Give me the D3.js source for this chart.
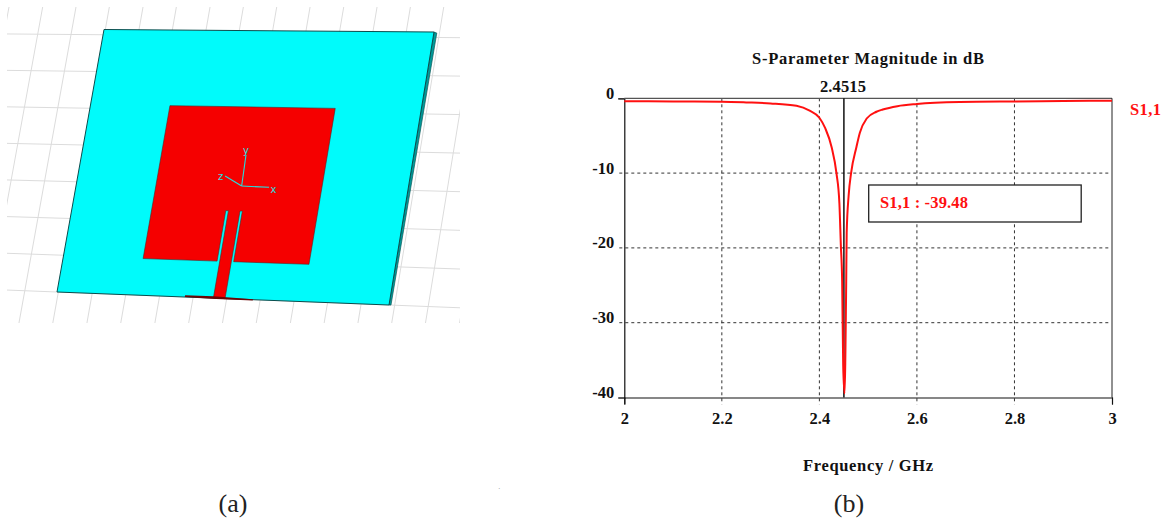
<!DOCTYPE html>
<html><head><meta charset="utf-8">
<script src="https://cdn.jsdelivr.net/npm/d3@7"></script>
<style>
html,body{margin:0;padding:0;background:#fff}
svg{display:block}
text{font-family:"Liberation Serif",serif}
.b{font-weight:bold;fill:#111}
</style></head><body>
<svg id="c" width="1166" height="519"></svg>
<script>
// ---- S-parameter curve (GHz, dB) ----
const freq = [2,2.1,2.2,2.25,2.3,2.353,2.38,2.4,2.412,2.425,2.435,2.441,2.444,2.4467,2.4488,2.4515,2.4549,2.456,2.46,2.465,2.476,2.483,2.497,2.517,2.53,2.56,2.6,2.688,2.8,2.9,3];
const s11  = [-0.38,-0.42,-0.46,-0.55,-0.68,-1,-1.65,-2.6,-4,-6.5,-10,-14,-19.6,-24.5,-35.7,-39.48,-25.3,-18,-13,-10,-6.5,-4.6,-2.7,-1.8,-1.5,-1.05,-0.76,-0.5,-0.42,-0.37,-0.32];
const xTicks = [2,2.2,2.4,2.6,2.8,3];
const yTicks = [0,-10,-20,-30,-40];
const markerFreq = 2.4515;
const seriesName = "S1,1";
const readout = "S1,1 : -39.48";

// ---- antenna model, in fractions of the substrate (u across, v down) ----
const patch = [[.24,.285],[.74,.285],[.74,.862],[.513,.862],[.513,.673],[.506,.673],[.506,1],[.471,1],[.471,.673],[.463,.673],[.463,.862],[.24,.862]];
const substrate = [[0,0],[1,0],[1,1],[0,1]];
const sideWall = [[1,0],[1.009,.004],[1.006,1],[1,1]];
const feedShadow = [[.385,.993],[.47,.993],[.59,.998],[.59,1.003],[.48,1.003],[.385,1.0]];
const wcsU = [-0.3,-0.198,-0.097,0.004,0.106,0.207,0.309,0.41,0.511,0.612,0.714,0.815,0.916,1.017,1.118,1.22];
const wcsV = [0.02,0.16,0.3,0.44,0.58,0.72,0.86,1];
const triadOrigin = [.498,.58];
const triad = [{n:"y",tip:[.495,.464],lab:[.493,.449]},{n:"z",tip:[.443,.544],lab:[.43,.55]},{n:"x",tip:[.581,.582],lab:[.596,.592]}];

const svg = d3.select("#c");

// bilinear projection of the substrate through linear scales
const topX = d3.scaleLinear([0,1],[104,434]), topY = d3.scaleLinear([0,1],[29.5,32]);
const botX = d3.scaleLinear([0,1],[57,389]),  botY = d3.scaleLinear([0,1],[292,305]);
const proj = ([u,v]) => [
  d3.scaleLinear([0,1],[topX(u),botX(u)])(v),
  d3.scaleLinear([0,1],[topY(u),botY(u)])(v)
];
const poly = d3.line().x(d=>proj(d)[0]).y(d=>proj(d)[1]);

svg.append("clipPath").attr("id","wcs").append("rect").attr("x",7).attr("y",7).attr("width",453).attr("height",316);
const g3 = svg.append("g");
const wg = g3.append("g").attr("clip-path","url(#wcs)").attr("stroke","#dcdcdc").attr("fill","none");
wg.selectAll(".u").data(wcsU).join("path").attr("d",u=>poly([[u,-.3],[u,1.4]]));
wg.selectAll(".v").data(wcsV).join("path").attr("d",v=>poly([[-.5,v],[1.4,v]]));

g3.append("path").attr("d",poly(sideWall)+"Z").attr("fill","#009a9a").attr("stroke","#0a5a5a").attr("stroke-width",.7);
g3.append("path").attr("d",poly(substrate)+"Z").attr("fill","#00fbfb").attr("stroke","#0b4c4c").attr("stroke-width",1);
g3.append("path").attr("d",poly(patch)+"Z").attr("fill","#f50000").attr("stroke","#5a2020").attr("stroke-width",.6);
g3.append("path").attr("d",poly(feedShadow)+"Z").attr("fill","#6a0505");

const tg = g3.append("g");
tg.selectAll("line").data(triad).join("line")
  .attr("x1",proj(triadOrigin)[0]).attr("y1",proj(triadOrigin)[1])
  .attr("x2",d=>proj(d.tip)[0]).attr("y2",d=>proj(d.tip)[1])
  .attr("stroke","#22e0e0").attr("stroke-width",1.1);
tg.selectAll("text").data(triad).join("text")
  .attr("x",d=>proj(d.lab)[0]).attr("y",d=>proj(d.lab)[1]+3)
  .attr("text-anchor","middle").attr("font-size",10).attr("fill","#22e0e0")
  .style("font-family","'DejaVu Sans'").text(d=>d.n);

// ---- chart ----
const x = d3.scaleLinear([2,3],[624.3,1112]);
const y = d3.scaleLinear([0,-40],[98.3,397.5]);
const gc = svg.append("g");

gc.append("g").selectAll("line").data(xTicks.slice(1,-1)).join("line")
  .attr("x1",d=>x(d)).attr("x2",d=>x(d)).attr("y1",y(0)).attr("y2",y(-40)+7)
  .attr("stroke","#333").attr("stroke-dasharray","3 3");
gc.append("g").selectAll("line").data(yTicks.slice(1,-1)).join("line")
  .attr("x1",x(2)-5).attr("x2",x(3)-2).attr("y1",d=>y(d)).attr("y2",d=>y(d))
  .attr("stroke","#333").attr("stroke-dasharray","3 3");

const ax = gc.append("g").attr("transform",`translate(0,${y(-40)})`)
  .call(d3.axisBottom(x).tickValues(xTicks).tickFormat(d=>String(d)).tickSize(7).tickPadding(5));
const ay = gc.append("g").attr("transform",`translate(${x(2)},0)`)
  .call(d3.axisLeft(y).tickValues(yTicks).tickFormat(d=>String(d)).tickSize(6).tickPadding(4));
for (const a of [ax,ay]) {
  a.selectAll("path").attr("stroke","#111").attr("stroke-width",1.2);
  a.selectAll("text").attr("class","b").attr("font-size",16.5).style("font-family","'Liberation Serif'");
}
ax.selectAll(".tick line").attr("stroke",d=>(d===2||d===3)?"#111":"none");
ay.selectAll(".tick line").attr("stroke",d=>(d===0||d===-40)?"#333":"none");
ax.selectAll("text").attr("dy","0.9em");
ay.selectAll("text").attr("dy","0");
gc.append("line").attr("x1",x(2)).attr("x2",x(3)).attr("y1",y(0)).attr("y2",y(0)).attr("stroke","#555").attr("stroke-width",1.2);
gc.append("line").attr("x1",x(3)).attr("x2",x(3)).attr("y1",y(0)).attr("y2",y(-40)).attr("stroke","#222").attr("stroke-width",1);

gc.append("line").attr("x1",x(markerFreq)-.6).attr("x2",x(markerFreq)-.6).attr("y1",y(0)).attr("y2",y(-40)).attr("stroke","#111").attr("stroke-width",1.5);
gc.append("path").datum(freq.map((f,i)=>[f,s11[i]]))
  .attr("d",d3.line().curve(d3.curveMonotoneX).x(d=>x(d[0])).y(d=>y(d[1])))
  .attr("fill","none").attr("stroke","#ff1010").attr("stroke-width",2);

const T = (tx,ty,s,size,anchor="middle",len=null) => {
  const t = gc.append("text").attr("class","b").attr("x",tx).attr("y",ty).attr("font-size",size).attr("text-anchor",anchor).text(s);
  if (len) t.attr("textLength",len).attr("lengthAdjust","spacing");
  return t;
};
T(x(markerFreq)-1.5,92,String(markerFreq),16.5,"middle",46);
T(868,64,"S-Parameter Magnitude in dB",16.5,"middle",232);
T(868,471,"Frequency / GHz",16.5,"middle",130);
T(1130,115,seriesName,16.5,"start",31).style("fill","#ff1010");

gc.append("rect").attr("x",868.7).attr("y",185).attr("width",212.5).attr("height",37).attr("fill","#fff").attr("stroke","#222").attr("stroke-width",1.3);
T(880,208,readout,16.5,"start",88).style("fill","#ff1010");

// ---- panel captions ----
svg.append("text").attr("x",233).attr("y",512).attr("text-anchor","middle").attr("font-size",26).attr("fill","#222").text("(a)");
svg.append("text").attr("x",849).attr("y",512).attr("text-anchor","middle").attr("font-size",26).attr("fill","#222").text("(b)");
svg.append("text").attr("x",498.5).attr("y",489).attr("font-size",6).attr("fill","#777").text(".");
</script>
</body></html>
